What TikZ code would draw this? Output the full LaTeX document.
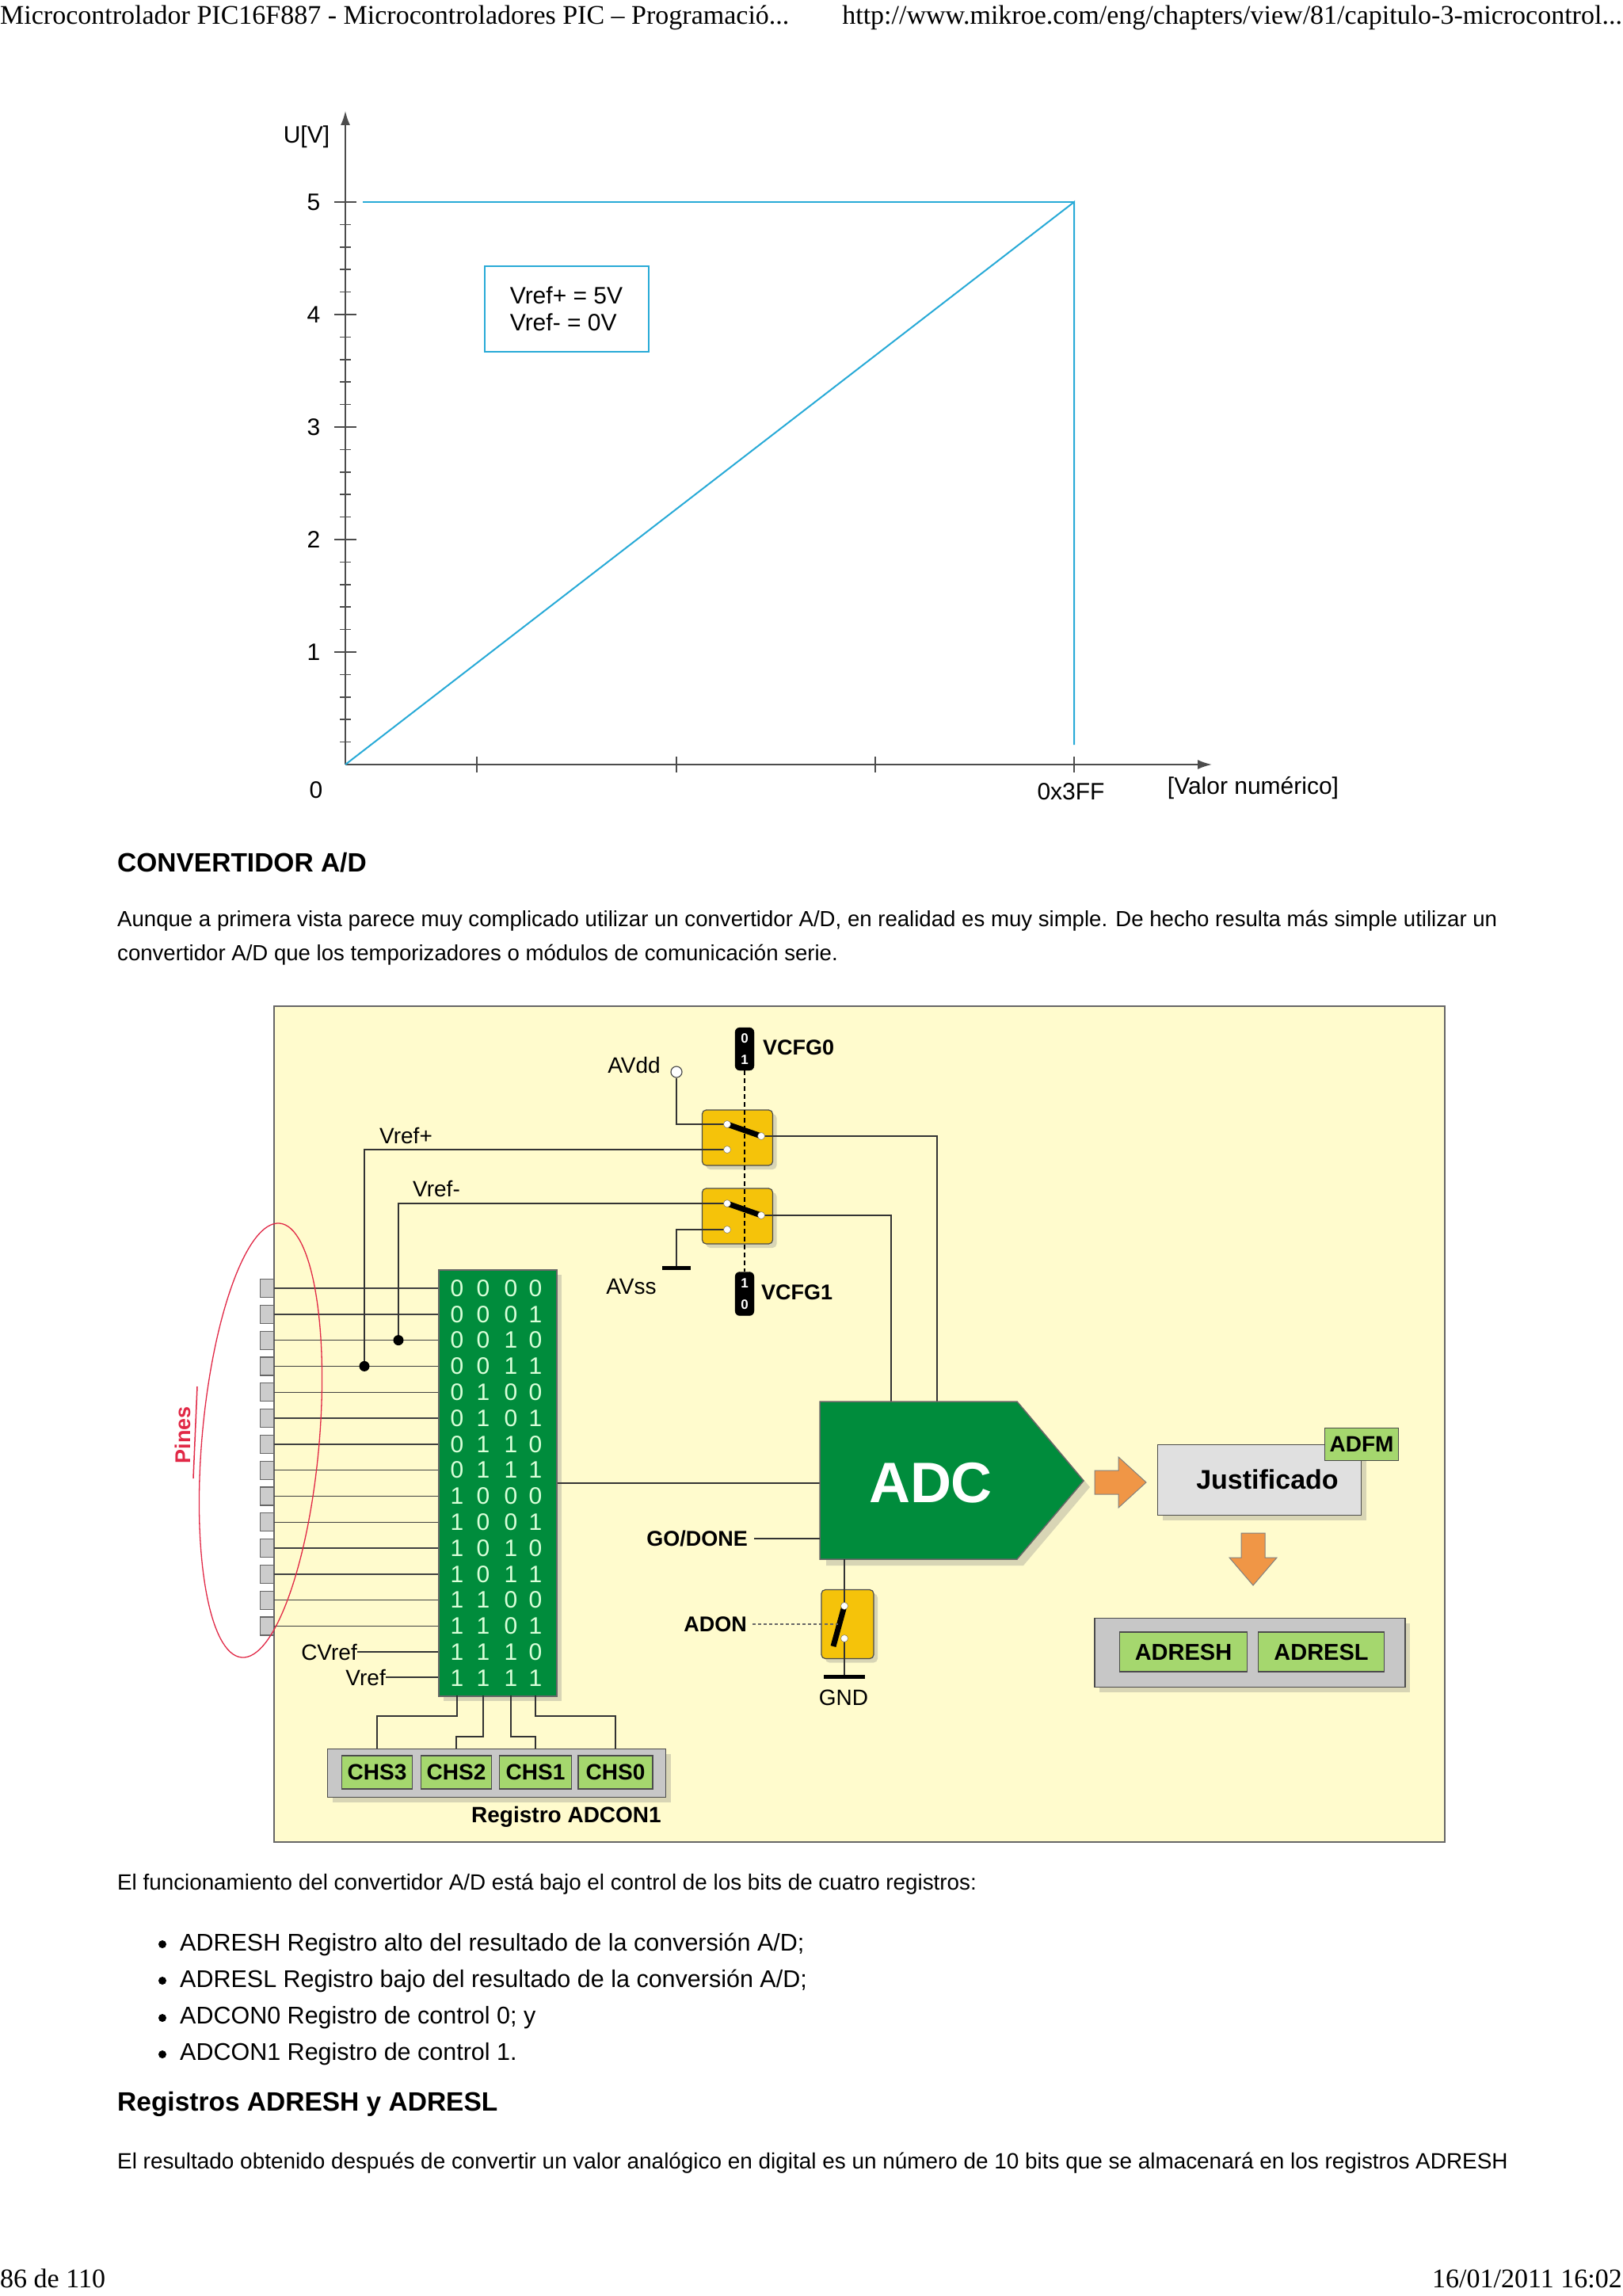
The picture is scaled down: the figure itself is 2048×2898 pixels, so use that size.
\documentclass[tikz,border=0pt]{standalone}
\usepackage{fontspec}
\setmainfont{Liberation Sans}
\newfontfamily\serifhd{Liberation Serif}
\usetikzlibrary{shadows,arrows.meta}
\definecolor{plotblue}{RGB}{40,170,215}
\definecolor{paper}{RGB}{255,251,205}
\definecolor{tgreen}{RGB}{0,140,60}
\definecolor{lgreen}{RGB}{165,215,110}
\definecolor{sw}{RGB}{245,195,10}
\definecolor{org}{RGB}{240,150,70}
\definecolor{pinred}{RGB}{225,40,70}
\tikzset{
  fs/.style={font=\fontsize{#1}{#1}\selectfont},
  wire/.style={draw=black!80, line width=1.6pt},
  swbox/.style={draw=black!70, fill=sw, rounded corners=5pt, line width=1.2pt, drop shadow={shadow xshift=5pt, shadow yshift=-5pt, opacity=0.3}},
  contact/.style={circle, draw=black!60, fill=white, inner sep=0pt, minimum size=9pt},
  lbl/.style={fs=28, inner sep=0pt},
  blbl/.style={fs=27, font=\bfseries\fontsize{27}{27}\selectfont, inner sep=0pt},
  gbox/.style={draw=black!70, fill=lgreen, line width=1.5pt, inner sep=0pt},
  greybox/.style={draw=black!70, fill=black!22, line width=1.5pt, drop shadow={shadow xshift=6pt, shadow yshift=-6pt, opacity=0.3}},
  chip/.style={draw=black, fill=black, rounded corners=6pt},
  chipd/.style={text=white, font=\bfseries\fontsize{17}{17}\selectfont, inner sep=0pt},
}
\begin{document}
\begin{tikzpicture}[x=1pt,y=-1pt]
\useasboundingbox (0,0) rectangle (2048,2898);
\fill[white] (0,0) rectangle (2048,2898);
% header / footer
\node[anchor=west, fs=34, inner sep=0pt] (hl) at (0,22) {\serifhd Microcontrolador PIC16F887 - Microcontroladores PIC – Programació...};
\node[anchor=east, fs=34, inner sep=0pt] (hr) at (2048,22) {\serifhd http://www.mikroe.com/eng/chapters/view/81/capitulo-3-microcontrol...};
\node[anchor=west, fs=34, inner sep=0pt] (fl) at (0,2876) {\serifhd 86 de 110};
\node[anchor=east, fs=34, inner sep=0pt] (fr) at (2048,2876) {\serifhd 16/01/2011 16:02};

% ---------- graph ----------
\coordinate (O) at (436,965);
\coordinate (ytop) at (436,140);
\coordinate (xend) at (1530,965);
\draw[black!70, line width=2pt, -{Latex[length=18pt,width=12pt]}] (O) -- (ytop);
\draw[black!70, line width=2pt, -{Latex[length=18pt,width=12pt]}] (O) -- (xend);
\foreach \k in {1,...,25} {\draw[black!70, line width=1.6pt] (429,965-28.4*\k) -- (443,965-28.4*\k);}
\foreach \k/\t in {1/1,2/2,3/3,4/4,5/5} {
  \draw[black!70, line width=1.8pt] (422,965-142*\k) -- (450,965-142*\k);
  \node[lbl, fs=30] at (396,965-142*\k) {\t};}
\node[lbl, fs=30] (zero) at (399,997) {0};
\foreach \x in {602,854,1105,1356} {\draw[black!70, line width=1.8pt] (\x,955) -- (\x,975);}
\node[lbl, fs=30] (uv) at (387,173) {U[V]};
\node[lbl, fs=30] (hex) at (1352,999) {0x3FF};
\node[lbl, fs=30] (valn) at (1582,995) {[Valor numérico]};
\coordinate (P) at (1356,255);
\draw[plotblue, line width=2pt] (O) -- (P) -- (1356,940);
\draw[plotblue, line width=2pt] (458,255) -- (P);
\node[draw=plotblue, line width=2pt, minimum width=207pt, minimum height=108pt, align=left, fs=30, inner sep=0pt] (vbox) at (715,390) {Vref+ = 5V\\[4pt]Vref- = 0V};

% ---------- text ----------
\node[anchor=west, inner sep=0pt, font=\bfseries\fontsize{33.5}{33.5}\selectfont] (h1) at (148,1089) {CONVERTIDOR A/D};
\node[anchor=west, inner sep=0pt, fs=27.6] (p1) at (148,1162) {Aunque a primera vista parece muy complicado utilizar un convertidor A/D, en realidad es muy simple. De hecho resulta más simple utilizar un};
\node[anchor=west, inner sep=0pt, fs=27.6] (p2) at (148,1205) {convertidor A/D que los temporizadores o módulos de comunicación serie.};

% ---------- diagram ----------
\draw[black!60, fill=paper, line width=2pt] (346,1270) rectangle (1824,2325);

% switches
\node[swbox, minimum width=89pt, minimum height=70pt] (s1) at (931,1436) {};
\node[swbox, minimum width=89pt, minimum height=70pt] (s2) at (931,1535) {};
\node[chip, minimum width=24pt, minimum height=54pt] (c0) at (940,1324) {};
\node[chip, minimum width=24pt, minimum height=55pt] (c1) at (940,1633) {};
\node[chipd] at (940,1311) {0};
\node[chipd] at (940,1338) {1};
\node[chipd] at (940,1620) {1};
\node[chipd] at (940,1647) {0};
\draw[dash pattern=on 6pt off 4pt, black, line width=1.3pt] (c0.south) -- (c1.north);
\node[blbl, anchor=west] (vc0) at (963,1322) {VCFG0};
\node[blbl, anchor=west] (vc1) at (961,1631) {VCFG1};

\coordinate (a1) at (918,1419); \coordinate (b1) at (918,1451); \coordinate (r1) at (961,1434);
\coordinate (a2) at (918,1519); \coordinate (b2) at (918,1552); \coordinate (r2) at (961,1534);

% AVdd
\node[circle, draw=black!70, fill=white, inner sep=0pt, minimum size=14pt, line width=1.2pt] (avdd) at (854,1353) {};
\node[lbl, anchor=east] (avddl) at (834,1344) {AVdd};
\draw[wire] (avdd.south) |- (a1);
% AVss
\coordinate (gss) at (854,1600);
\draw[wire] (b2) -| (gss);
\draw[black, line width=5pt] (836,1600) -- (872,1600);
\node[lbl] (avss) at (797,1624) {AVss};

% table
\node[draw=black!60, fill=tgreen, line width=1.5pt, minimum width=149pt, minimum height=538pt, inner sep=0pt, anchor=north west, drop shadow={shadow xshift=6pt, shadow yshift=-6pt, opacity=0.3}] (tab) at (553,1602) {};
\foreach \r [count=\i from 0] in {0,...,15} {
  \pgfmathsetmacro{\yy}{1626+32.8*\i}
  \foreach \c [count=\j from 0] in {577,610,645,676} {
    \pgfmathsetmacro{\bit}{int(mod(floor(\r/2^(3-\j)),2))}
    \node[text=green!15!white, fs=30, inner sep=0pt] at (\c,\yy) {\bit};
  }
}
% pins
\foreach \i in {0,...,13} {
  \pgfmathsetmacro{\yy}{1626+32.8*\i}
  \draw[wire, black!75, line width=1.4pt] (346,\yy) -- (553,\yy);
  \node[draw=black!60, fill=black!20, line width=1.2pt, minimum width=17pt, minimum height=23pt, inner sep=0pt] (pin\i) at (337,\yy) {};
}
% Vref lines
\draw[wire] (r1) -- (1183,1434) -- (1183,1769);
\draw[wire] (r2) -- (1125,1534) -- (1125,1769);
\draw[wire] (b1) -- (460,1451) -- (460,1724.4);
\draw[wire] (a2) -- (503,1519) -- (503,1691.6);
\fill (460,1724.4) circle (6.5pt);
\fill (503,1691.6) circle (6.5pt);
\node[lbl, anchor=south west] (vrp) at (479,1444) {Vref+};
\node[lbl, anchor=south west] (vrm) at (521,1511) {Vref-};

% switch levers and contacts
\draw[black, line width=7pt] (a1) -- (r1);
\draw[black, line width=7pt] (a2) -- (r2);
\foreach \p in {a1,b1,r1,a2,b2,r2} {\node[contact] at (\p) {};}

% CVref, Vref
\node[lbl, anchor=east] (cvr) at (451,2085) {CVref};
\node[lbl, anchor=east] (vr) at (487,2117) {Vref};
\draw[wire, line width=1.3pt] (cvr.east) -- (cvr.east -| tab.west);
\draw[wire, line width=1.3pt] (vr.east) -- (vr.east -| tab.west);

% Pines ellipse
\draw[pinred, line width=1.3pt, rotate around={-5:(329,1818)}] (329,1818) ellipse (74pt and 275pt);
\node[text=pinred, rotate=90, font=\bfseries\fontsize{27}{27}\selectfont, inner sep=0pt] (pines) at (231,1811) {Pines};
\draw[pinred, line width=1.5pt] (249,1750) -- (244,1866);

% ADCON1 register
\node[greybox, minimum width=427pt, minimum height=61pt, inner sep=0pt] (reg) at (627,2238) {};
\node[gbox, minimum width=89pt, minimum height=42pt, font=\bfseries\fontsize{28}{28}\selectfont] (ch3) at (476,2237) {CHS3};
\node[gbox, minimum width=89pt, minimum height=42pt, font=\bfseries\fontsize{28}{28}\selectfont] (ch2) at (576,2237) {CHS2};
\node[gbox, minimum width=91pt, minimum height=42pt, font=\bfseries\fontsize{28}{28}\selectfont] (ch1) at (676,2237) {CHS1};
\node[gbox, minimum width=94pt, minimum height=42pt, font=\bfseries\fontsize{28}{28}\selectfont] (ch0) at (777,2237) {CHS0};
\draw[wire, line width=1.4pt] (577,2140) -- (577,2166) -| (reg.north -| ch3);
\draw[wire, line width=1.4pt] (610,2140) -- (610,2192) -| (reg.north -| ch2);
\draw[wire, line width=1.4pt] (645,2140) -- (645,2192) -| (reg.north -| ch1);
\draw[wire, line width=1.4pt] (676,2140) -- (676,2166) -| (reg.north -| ch0);
\node[anchor=north, font=\bfseries\fontsize{28}{28}\selectfont, inner sep=0pt] (regl) at (715,2280) {Registro ADCON1};

% ADC
\draw[wire] (tab.east |- 0,1872) -- (1035,1872);
\filldraw[fill=tgreen, draw=black!60, line width=1.5pt, drop shadow={shadow xshift=8pt, shadow yshift=-8pt, opacity=0.3}] (1035,1769) -- (1284,1769) -- (1368,1869) -- (1284,1968) -- (1035,1968) -- cycle;
\node[text=white, font=\bfseries\fontsize{72}{72}\selectfont] (adc) at (1175,1872) {ADC};
\node[blbl, anchor=east] (god) at (944,1942) {GO/DONE};
\draw[wire] (god.east) ++(8,0) -- (1035,1942);

% ADON switch
\node[swbox, minimum width=66pt, minimum height=87pt] (s3) at (1070,2050) {};
\coordinate (t3) at (1066,2027); \coordinate (u3) at (1066,2068);
\draw[wire] (1066,1968) -- (t3);
\draw[wire] (u3) -- (1066,2116);
\draw[black, line width=5pt] (1040,2116) -- (1092,2116);
\draw[black, line width=7pt] (t3) -- (1052,2078);
\node[contact] at (t3) {}; \node[contact] at (u3) {};
\node[blbl, anchor=east] (adon) at (943,2050) {ADON};
\draw[black!60, dash pattern=on 4pt off 3pt, line width=2pt] (950,2050) -- (1058,2050);
\node[lbl] (gnd) at (1065,2143) {GND};

% arrows
\fill[org, draw=black!50, line width=1pt] (1382,1856) -- (1412,1856) -- (1412,1839) -- (1447,1871) -- (1412,1903) -- (1412,1886) -- (1382,1886) -- cycle;
\fill[org, draw=black!50, line width=1pt] (1567,1935) -- (1597,1935) -- (1597,1966) -- (1612,1966) -- (1582,2001) -- (1552,1966) -- (1567,1966) -- cycle;

% Justificado
\node[greybox, fill=black!12, minimum width=257pt, minimum height=89pt, inner sep=0pt] (jus) at (1590,1868) {};
\node[font=\bfseries\fontsize{34}{34}\selectfont] at (1600,1867) {Justificado};
\node[gbox, minimum width=93pt, minimum height=41pt, font=\bfseries\fontsize{28}{28}\selectfont] (adfm) at (1719,1823) {ADFM};

% ADRESH / ADRESL
\node[greybox, minimum width=392pt, minimum height=87pt, inner sep=0pt] (res) at (1578,2086) {};
\node[gbox, minimum width=161pt, minimum height=50pt, font=\bfseries\fontsize{29}{29}\selectfont] (adh) at (1494,2085) {ADRESH};
\node[gbox, minimum width=159pt, minimum height=50pt, font=\bfseries\fontsize{29}{29}\selectfont] (adl) at (1668,2085) {ADRESL};

% ---------- lower text ----------
\node[anchor=west, inner sep=0pt, fs=27.8] (p3) at (148,2378) {El funcionamiento del convertidor A/D está bajo el control de los bits de cuatro registros:};
\foreach \y/\t in {2454/{ADRESH Registro alto del resultado de la conversión A/D;},2500/{ADRESL Registro bajo del resultado de la conversión A/D;},2547/{ADCON0 Registro de control 0; y},2593/{ADCON1 Registro de control 1.}} {
  \fill (205,\y) circle (5pt);
  \node[anchor=west, inner sep=0pt, fs=30.5] at (227,\y) {\t};
}
\node[anchor=west, inner sep=0pt, font=\bfseries\fontsize{33.5}{33.5}\selectfont] (h2) at (148,2656) {Registros ADRESH y ADRESL};
\node[anchor=west, inner sep=0pt, fs=27.9] (p4) at (148,2730) {El resultado obtenido después de convertir un valor analógico en digital es un número de 10 bits que se almacenará en los registros ADRESH};
\end{tikzpicture}
\end{document}
